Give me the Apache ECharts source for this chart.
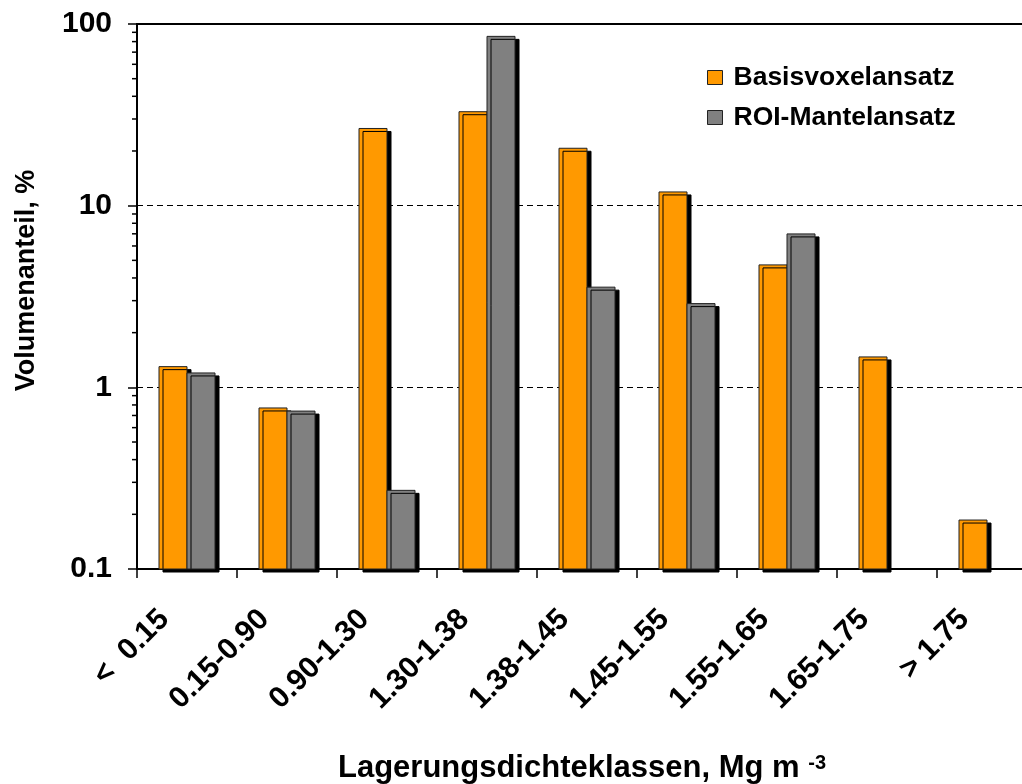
<!DOCTYPE html>
<html>
<head>
<meta charset="utf-8">
<script src="https://cdn.jsdelivr.net/npm/echarts@6/dist/echarts.min.js"></script>
<style>
  html, body { margin: 0; padding: 0; background: #fff; }
  #chart { width: 1022px; height: 784px; }
</style>
</head>
<body>
<div id="chart"></div>
<script>
// Bulk density classes (Mg m-3)
const categories = ['<  0.15', '0.15-0.90', '0.90-1.30', '1.30-1.38', '1.38-1.45',
                    '1.45-1.55', '1.55-1.65', '1.65-1.75', '> 1.75'];
// Volume share in percent per class
const basisvoxel = [1.30, 0.77, 26.6, 32.9, 20.7, 11.9, 4.72, 1.47, 0.186];
const roiMantel  = [1.20, 0.74, 0.271, 85.5, 3.56, 2.89, 6.99, null, null];
// Logarithmic value axis: decades and the intermediate ticks
const yMin = 0.1, yMax = 100;
const minorTicks = [0.2, 0.3, 0.4, 0.5, 0.6, 0.7, 0.8, 0.9,
                    2, 3, 4, 5, 6, 7, 8, 9,
                    20, 30, 40, 50, 60, 70, 80, 90];

const FONT = '"Liberation Sans", Arial, Helvetica, sans-serif';
const ORANGE = '#FF9900';
const GREY = '#808080';

// Bars rise from the bottom of the log axis (yMin); slot 0 = left bar, slot 1 = right bar
function barItem(slot) {
  return function (params, api) {
    const v = api.value(1);
    if (v == null || isNaN(v) || v <= 0) return null;
    const ci = api.value(0);
    const band = api.size([1, 0])[0];
    const w = band * 0.28;
    const top = api.coord([ci, v]);
    const base = api.coord([ci, yMin]);
    return {
      type: 'rect',
      shape: { x: top[0] - w + slot * w, y: top[1], width: w, height: base[1] - top[1] },
      style: {
        fill: api.visual('color'),
        stroke: '#222', lineWidth: 1,
        shadowColor: '#000', shadowBlur: 0, shadowOffsetX: 4, shadowOffsetY: 3
      }
    };
  };
}

// Short outward ticks on the value axis at 2..9 of every decade
function minorTickItem(params, api) {
  const p = api.coord([0, api.value(1)]);
  const x0 = params.coordSys.x;
  return {
    type: 'line',
    shape: { x1: x0 - 5, y1: p[1], x2: x0, y2: p[1] },
    style: { stroke: '#000', lineWidth: 1.5 }
  };
}

const toPairs = (arr) => arr.map((v, i) => [i, v]).filter((d) => d[1] != null);

const chart = echarts.init(document.getElementById('chart'), null, { renderer: 'canvas' });

chart.setOption({
  backgroundColor: '#fff',
  animation: false,
  textStyle: { fontFamily: FONT },
  grid: {
    left: 137, top: 24, width: 900, height: 545,
    outerBoundsMode: 'none', containLabel: false,
    show: true, borderColor: '#000', borderWidth: 2, backgroundColor: '#fff'
  },
  legend: {
    orient: 'vertical',
    left: 702, top: 59,
    itemWidth: 15, itemHeight: 14, itemGap: 13,
    icon: 'rect',
    itemStyle: { borderColor: '#222', borderWidth: 1, shadowColor: 'rgba(0,0,0,0)', shadowOffsetX: 0, shadowOffsetY: 0 },
    textStyle: { fontFamily: FONT, fontSize: 26.5, fontWeight: 'bold', color: '#000', lineHeight: 27, padding: [0, 0, 0, 6] },
    data: ['Basisvoxelansatz', 'ROI-Mantelansatz']
  },
  xAxis: {
    type: 'category',
    data: categories,
    boundaryGap: true,
    axisLine: { show: true, lineStyle: { color: '#000', width: 2 } },
    axisTick: { show: true, length: 9, lineStyle: { color: '#000', width: 1.5 } },
    axisLabel: {
      interval: 0, rotate: 45, margin: 23,
      fontFamily: FONT, fontSize: 30, fontWeight: 'bold', color: '#000',
      formatter: (v) => '{t|' + v + '}{s| }',
      rich: {
        t: { fontFamily: FONT, fontSize: 30, fontWeight: 'bold', color: '#000' },
        s: { fontFamily: FONT, fontSize: 30, width: 32 }
      }
    },
    splitLine: { show: false },
    name: 'Lagerungsdichteklassen, Mg m {sup|-3}',
    nameLocation: 'middle',
    nameGap: 184,
    nameTextStyle: {
      fontFamily: FONT, fontSize: 31, fontWeight: 'bold', color: '#000', lineHeight: 31,
      padding: [0, 10, 0, 0],
      rich: { sup: { fontFamily: FONT, fontSize: 20, fontWeight: 'bold', color: '#000', lineHeight: 20, verticalAlign: 'top' } }
    }
  },
  yAxis: {
    type: 'log', logBase: 10, min: yMin, max: yMax,
    axisLine: { show: true, lineStyle: { color: '#000', width: 2 } },
    axisTick: { show: true, length: 9, lineStyle: { color: '#000', width: 1.5 } },
    axisLabel: {
      margin: 25, fontFamily: FONT, fontSize: 30, fontWeight: 'bold', color: '#000',
      formatter: (v) => String(v)
    },
    splitLine: { show: true, lineStyle: { color: '#000', width: 1, type: [6, 4] } },
    name: 'Volumenanteil, %',
    nameLocation: 'middle',
    nameGap: 97,
    nameTextStyle: { fontFamily: FONT, fontSize: 27, fontWeight: 'bold', color: '#000', padding: [0, 0, 0, 32] }
  },
  series: [
    {
      name: 'Basisvoxelansatz', type: 'custom',
      data: toPairs(basisvoxel), encode: { x: 0, y: 1 },
      renderItem: barItem(0),
      itemStyle: { color: ORANGE, borderColor: '#222', borderWidth: 1 }
    },
    {
      name: 'ROI-Mantelansatz', type: 'custom',
      data: toPairs(roiMantel), encode: { x: 0, y: 1 },
      renderItem: barItem(1),
      itemStyle: { color: GREY, borderColor: '#222', borderWidth: 1 }
    },
    {
      name: 'minorTicks', type: 'custom', clip: false, silent: true,
      data: minorTicks.map((v) => [0, v]), encode: { x: 0, y: 1 },
      renderItem: minorTickItem
    }
  ]
});
</script>
</body>
</html>
